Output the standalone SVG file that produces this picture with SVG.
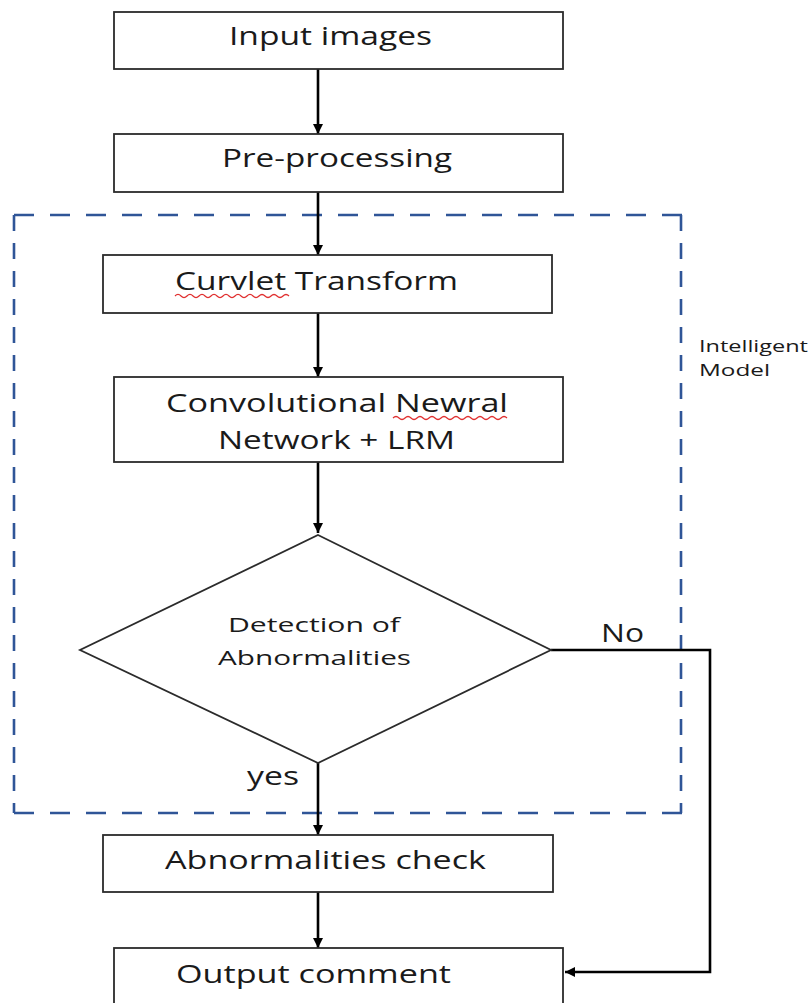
<svg xmlns="http://www.w3.org/2000/svg" width="812" height="1003" viewBox="0 0 812 1003">
  <style>
    .box { fill: #ffffff; stroke: #2b2b2b; stroke-width: 1.8; }
    .lbl { font-family: "Open Sans", "Liberation Sans", sans-serif; fill: #1a1a1a; }
    .big { font-size: 26px; }
    .mid { font-size: 20px; }
    .small { font-size: 16px; }
    .conn { fill: none; stroke: #000000; stroke-width: 2.6; }
    .dash { stroke: #2f5597; stroke-width: 2.6; fill: none; }
    .squig { fill: none; stroke: #e03030; stroke-width: 1.2; }
  </style>
  <defs>
    <marker id="arrow" viewBox="0 0 10 10" refX="10" refY="5" markerWidth="4" markerHeight="4" markerUnits="strokeWidth" orient="auto">
      <path d="M0,0 L10,5 L0,10 z" fill="#000000"/>
    </marker>
  </defs>
  <rect width="812" height="1003" fill="#ffffff"/>

  <g id="intelligent-model">
    <line class="dash" x1="14" y1="215" x2="682" y2="215" stroke-dasharray="20 16"/>
    <line class="dash" x1="14" y1="813" x2="682" y2="813" stroke-dasharray="20 16"/>
    <line class="dash" x1="14" y1="215" x2="14" y2="813" stroke-dasharray="16 12"/>
    <line class="dash" x1="681" y1="215" x2="681" y2="813" stroke-dasharray="16 12"/>
    <text class="lbl small" x="699" y="352" textLength="109" lengthAdjust="spacingAndGlyphs">Intelligent</text>
    <text class="lbl small" x="699" y="376" textLength="71" lengthAdjust="spacingAndGlyphs">Model</text>
  </g>

  <g id="connectors">
    <line class="conn" x1="318" y1="69" x2="318" y2="134" marker-end="url(#arrow)"/>
    <line class="conn" x1="318" y1="192" x2="318" y2="255" marker-end="url(#arrow)"/>
    <line class="conn" x1="318" y1="313" x2="318" y2="377" marker-end="url(#arrow)"/>
    <line class="conn" x1="318" y1="462" x2="318" y2="533" marker-end="url(#arrow)"/>
    <line class="conn" x1="318" y1="763" x2="318" y2="835" marker-end="url(#arrow)"/>
    <line class="conn" x1="318" y1="892" x2="318" y2="948" marker-end="url(#arrow)"/>
    <polyline class="conn" points="551,650 710,650 710,972 565,972" marker-end="url(#arrow)"/>
    <text class="lbl big" x="601" y="642" font-size="24" textLength="43" lengthAdjust="spacingAndGlyphs">No</text>
    <text class="lbl big" x="247" y="785" font-size="24" textLength="52" lengthAdjust="spacingAndGlyphs">yes</text>
  </g>

  <g id="input-images">
    <rect class="box" x="114" y="12" width="449" height="57"/>
    <text class="lbl big" x="229" y="45" textLength="203" lengthAdjust="spacingAndGlyphs">Input images</text>
  </g>

  <g id="pre-processing">
    <rect class="box" x="114" y="134" width="449" height="58"/>
    <text class="lbl big" x="222" y="167" textLength="230" lengthAdjust="spacingAndGlyphs">Pre-processing</text>
  </g>

  <g id="curvlet-transform">
    <rect class="box" x="103" y="255" width="449" height="58"/>
    <text class="lbl big" x="175" y="290" textLength="283" lengthAdjust="spacingAndGlyphs">Curvlet Transform</text>
    <path class="squig" d="M175,296 q3,-3 6,0 t6,0 t6,0 t6,0 t6,0 t6,0 t6,0 t6,0 t6,0 t6,0 t6,0 t6,0 t6,0 t6,0 t6,0 t6,0 t6,0 t6,0 t6,0"/>
  </g>

  <g id="cnn-lrm">
    <rect class="box" x="114" y="377" width="449" height="85"/>
    <text class="lbl big" x="166" y="412" textLength="342" lengthAdjust="spacingAndGlyphs">Convolutional Newral</text>
    <text class="lbl big" x="218" y="449" textLength="237" lengthAdjust="spacingAndGlyphs">Network + LRM</text>
    <path class="squig" d="M393,418 q3,-3 6,0 t6,0 t6,0 t6,0 t6,0 t6,0 t6,0 t6,0 t6,0 t6,0 t6,0 t6,0 t6,0 t6,0 t6,0 t6,0 t6,0 t6,0 t6,0"/>
  </g>

  <g id="detection">
    <polygon class="box" points="318,535 551,650 318,763 80,650" stroke-width="1.6"/>
    <text class="lbl mid" x="228" y="632" textLength="172" lengthAdjust="spacingAndGlyphs">Detection of</text>
    <text class="lbl mid" x="218" y="665" textLength="193" lengthAdjust="spacingAndGlyphs">Abnormalities</text>
  </g>

  <g id="abnormalities-check">
    <rect class="box" x="103" y="835" width="450" height="57"/>
    <text class="lbl big" x="165" y="869" textLength="321" lengthAdjust="spacingAndGlyphs">Abnormalities check</text>
  </g>

  <g id="output-comment">
    <rect class="box" x="114" y="948" width="449" height="70"/>
    <text class="lbl big" x="176" y="983" textLength="275" lengthAdjust="spacingAndGlyphs">Output comment</text>
  </g>
</svg>
